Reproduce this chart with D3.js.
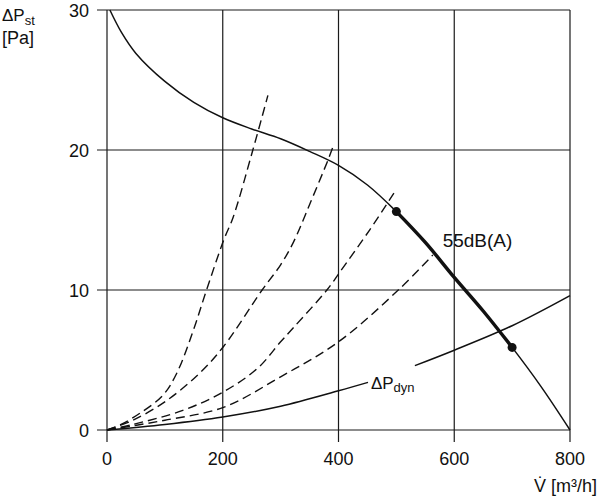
<!DOCTYPE html>
<html>
<head>
<meta charset="utf-8">
<script src="https://cdn.jsdelivr.net/npm/d3@7"></script>
<style>
  body { margin: 0; background: #fff; }
  svg text { font-family: "Liberation Sans", Arial, sans-serif; fill: #111; }
</style>
</head>
<body>
<svg id="chart"></svg>
<script>
// values (x in m³/h, y in Pa)
const xTicks = [0, 200, 400, 600, 800]
const yTicks = [0, 10, 20, 30]

const fanX = [5, 25, 50, 100, 150, 200, 250, 300, 350, 400, 450, 500, 550, 600, 650, 700, 750, 800]
const fanY = [30, 28.4, 26.9, 24.9, 23.4, 22.3, 21.5, 20.8, 19.9, 18.9, 17.5, 15.6, 13.4, 10.9, 8.5, 5.9, 3.1, 0]

const dynX = [0, 100, 200, 300, 400, 451, 532, 600, 700, 800]
const dynY = [0, 0.4, 0.93, 1.7, 2.8, 3.4, 4.6, 5.7, 7.45, 9.6]

const sysAX = [0, 22, 57, 97, 121, 149, 172, 202, 218, 252, 278]
const sysAY = [0, 0.35, 1.2, 2.5, 4.1, 7.1, 10, 13.6, 15.2, 20, 23.9]
const sysBX = [0, 45, 103, 161, 202, 268, 300, 322, 351, 382, 392]
const sysBY = [0, 0.7, 2.1, 4.1, 6.0, 10, 11.8, 13.4, 16.2, 19.3, 20.4]
const sysCX = [0, 45, 131, 200, 260, 300, 322, 380, 401, 454, 497]
const sysCY = [0, 0.4, 1.4, 2.7, 4.4, 6.3, 7.3, 10, 11.2, 14.3, 17.0]
const sysDX = [0, 45, 100, 200, 300, 400, 506, 563]
const sysDY = [0, 0.3, 0.7, 1.6, 3.8, 6.3, 10.1, 12.5]

const zoneFrom = 500, zoneTo = 700
const dynGapFrom = 451, dynGapTo = 532

const width = 600, height = 500
const margin = { top: 10, right: 30, bottom: 70, left: 107 }
const w = width - margin.left - margin.right
const h = height - margin.top - margin.bottom

const svg = d3.select('#chart').attr('width', width).attr('height', height)
const g = svg.append('g').attr('transform', `translate(${margin.left}, ${margin.top})`)

const x = d3.scaleLinear().domain([0, 800]).range([0, w])
const y = d3.scaleLinear().domain([0, 30]).range([h, 0])

const pts = (xs, ys) => xs.map((v, i) => [v, ys[i]])
const line = d3.line().x(d => x(d[0])).y(d => y(d[1])).curve(d3.curveCatmullRom.alpha(0.5))

// grid
g.append('g').selectAll('line').data(xTicks).join('line')
  .attr('x1', d => x(d)).attr('x2', d => x(d))
  .attr('y1', 0).attr('y2', h + 12)
  .attr('stroke', '#1a1a1a').attr('stroke-width', 1.2)
g.append('g').selectAll('line').data(yTicks).join('line')
  .attr('x1', -10).attr('x2', w)
  .attr('y1', d => y(d)).attr('y2', d => y(d))
  .attr('stroke', '#1a1a1a').attr('stroke-width', 1.2)

// tick labels
g.append('g').selectAll('text').data(xTicks).join('text')
  .attr('x', d => x(d)).attr('y', h + 35)
  .attr('text-anchor', 'middle').attr('font-size', 18)
  .text(d => d)
g.append('g').selectAll('text').data(yTicks).join('text')
  .attr('x', -18).attr('y', d => y(d) + 6.5)
  .attr('text-anchor', 'end').attr('font-size', 18)
  .text(d => d)

// system curves
const sys = [pts(sysAX, sysAY), pts(sysBX, sysBY), pts(sysCX, sysCY), pts(sysDX, sysDY)]
g.append('g').selectAll('path').data(sys).join('path')
  .attr('d', line)
  .attr('fill', 'none').attr('stroke', '#111')
  .attr('stroke-width', 1.4).attr('stroke-dasharray', '9,5')

// dynamic pressure, with a gap for its label
const dyn = pts(dynX, dynY)
g.append('path').attr('d', line(dyn.filter(d => d[0] <= dynGapFrom)))
  .attr('fill', 'none').attr('stroke', '#111').attr('stroke-width', 1.5)
g.append('path').attr('d', line(dyn.filter(d => d[0] >= dynGapTo)))
  .attr('fill', 'none').attr('stroke', '#111').attr('stroke-width', 1.5)

// fan curve
const fan = pts(fanX, fanY)
g.append('path').attr('d', line(fan))
  .attr('fill', 'none').attr('stroke', '#111').attr('stroke-width', 1.5)
g.append('path').attr('d', line(fan.filter(d => d[0] >= zoneFrom && d[0] <= zoneTo)))
  .attr('fill', 'none').attr('stroke', '#111').attr('stroke-width', 3.5)
g.append('g').selectAll('circle')
  .data(fan.filter(d => d[0] === zoneFrom || d[0] === zoneTo)).join('circle')
  .attr('cx', d => x(d[0])).attr('cy', d => y(d[1])).attr('r', 4.5)
  .attr('fill', '#111')

// labels
g.append('text').attr('x', x(580)).attr('y', y(13.1))
  .attr('font-size', 19).text('55dB(A)')

const dl = g.append('text').attr('x', x(456)).attr('y', y(2.9)).attr('font-size', 17)
dl.append('tspan').text('ΔP')
dl.append('tspan').attr('font-size', 13).attr('dy', 3).text('dyn')

const yl = svg.append('text').attr('x', 2).attr('y', 21).attr('font-size', 17)
yl.append('tspan').text('ΔP')
yl.append('tspan').attr('font-size', 13).attr('dy', 4).text('st')
svg.append('text').attr('x', 2).attr('y', 44).attr('font-size', 18).text('[Pa]')

svg.append('text').attr('x', 597).attr('y', 492)
  .attr('text-anchor', 'end').attr('font-size', 18).text('V\u0307 [m³/h]')
</script>
</body>
</html>
